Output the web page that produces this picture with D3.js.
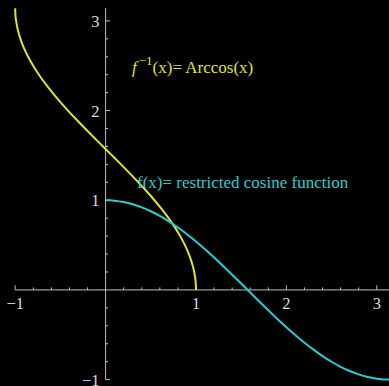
<!DOCTYPE html>
<html>
<head>
<meta charset="utf-8">
<script src="https://cdn.jsdelivr.net/npm/d3@7/dist/d3.min.js"></script>
<style>
  html, body { margin: 0; padding: 0; background: #000; }
  svg { display: block; }
</style>
</head>
<body>
<script>
// Sampled points of the restricted cosine on [0, π]
const angles = [0, 0.05, 0.1, 0.2, 0.3, 0.4, 0.5, 0.6, 0.7, 0.8, 0.9, 1.0, 1.1, 1.2, 1.3, 1.4, 1.5,
  1.6, 1.7, 1.8, 1.9, 2.0, 2.1, 2.2, 2.3, 2.4, 2.5, 2.6, 2.7, 2.8, 2.9, 3.0, 3.05, 3.1, 3.1416];
const cosValues = [1, 0.99875, 0.9950, 0.9801, 0.9553, 0.9211, 0.8776, 0.8253, 0.7648, 0.6967, 0.6216,
  0.5403, 0.4536, 0.3624, 0.2675, 0.1700, 0.0707, -0.0292, -0.1288, -0.2272, -0.3233, -0.4161,
  -0.5048, -0.5885, -0.6663, -0.7374, -0.8011, -0.8569, -0.9041, -0.9422, -0.9710, -0.9900,
  -0.99619, -0.9991, -1];

const xTickLabels = [-1, 1, 2, 3];
const yTickLabels = [-1, 1, 2, 3];
const minorStep = 0.2;

const W = 389, H = 386;
const yellow = "#e2e22c";
const cyan = "#24cfcf";
const axisColor = "#bdbdbd";
const labelColor = "#dcdcdc";
const serif = "'Liberation Serif', 'Times New Roman', serif";

const svg = d3.select("body").append("svg")
  .attr("width", W).attr("height", H)
  .style("background", "#000");

const x = d3.scaleLinear().domain([-1, Math.PI]).range([15.2, 389.6]);
const y = d3.scaleLinear().domain([-1, Math.PI]).range([379.6, 8.2]);

// Axes
const axes = svg.append("g").attr("stroke", axisColor).attr("stroke-width", 1);
axes.append("line")
  .attr("x1", x(-1)).attr("x2", x(Math.PI))
  .attr("y1", y(0)).attr("y2", y(0));
axes.append("line")
  .attr("x1", x(0)).attr("x2", x(0))
  .attr("y1", y(-1)).attr("y2", y(Math.PI));

const minorX = d3.range(-1, Math.PI + 1e-9, minorStep).filter(v => Math.abs(v) > 1e-9);
const minorY = d3.range(-1, Math.PI + 1e-9, minorStep).filter(v => Math.abs(v) > 1e-9);
const isMajor = v => Math.abs(v - Math.round(v)) < 1e-6;

// x ticks point upward
axes.selectAll("line.xt").data(minorX).join("line")
  .attr("class", "xt")
  .attr("x1", d => x(d)).attr("x2", d => x(d))
  .attr("y1", y(0)).attr("y2", d => y(0) - (isMajor(d) ? 4.5 : 2.5));

// y ticks point right
axes.selectAll("line.yt").data(minorY).join("line")
  .attr("class", "yt")
  .attr("y1", d => y(d)).attr("y2", d => y(d))
  .attr("x1", x(0)).attr("x2", d => x(0) + (isMajor(d) ? 4.5 : 2.5));

const fmt = d => d < 0 ? "\u2212" + Math.abs(d) : String(d);

svg.append("g").selectAll("text").data(xTickLabels).join("text")
  .attr("x", d => x(d)).attr("y", y(0) + 19.5)
  .attr("text-anchor", "middle")
  .attr("font-family", serif).attr("font-size", 16.5)
  .attr("fill", labelColor)
  .text(fmt);

svg.append("g").selectAll("text").data(yTickLabels).join("text")
  .attr("x", x(0) - 6).attr("y", d => y(d))
  .attr("dy", "0.36em")
  .attr("text-anchor", "end")
  .attr("font-family", serif).attr("font-size", 16.5)
  .attr("fill", labelColor)
  .text(fmt);

// Curves
const cosPts = angles.map((a, i) => [a, cosValues[i]]);
const arccosPts = angles.map((a, i) => [cosValues[i], a]); // inverse: swap coordinates

const line = d3.line().x(d => x(d[0])).y(d => y(d[1])).curve(d3.curveCatmullRom.alpha(0.5));

svg.append("path").datum(arccosPts)
  .attr("d", line).attr("fill", "none")
  .attr("stroke", yellow).attr("stroke-width", 2);

svg.append("path").datum(cosPts)
  .attr("d", line).attr("fill", "none")
  .attr("stroke", cyan).attr("stroke-width", 2);

// Labels
const t1 = svg.append("text")
  .attr("x", 132).attr("y", 73)
  .attr("font-family", serif).attr("font-size", 17)
  .attr("fill", yellow);
t1.append("tspan").attr("font-style", "italic").text("f");
t1.append("tspan").attr("dx", 2).attr("dy", -8).attr("font-size", 13).text("\u22121");
t1.append("tspan").attr("dy", 8).text("(x)= Arccos(x)");

svg.append("text")
  .attr("x", 137).attr("y", 188)
  .attr("font-family", serif).attr("font-size", 17)
  .attr("fill", cyan)
  .text("f(x)= restricted cosine function");
</script>
</body>
</html>
